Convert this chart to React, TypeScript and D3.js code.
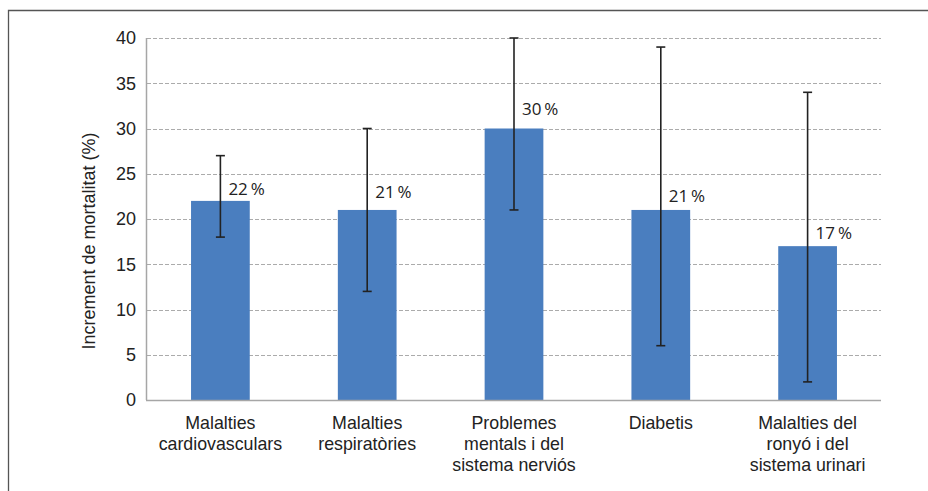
import React from "react";
import * as d3 from "d3";

const categories: string[][] = [
  ["Malalties", "cardiovasculars"],
  ["Malalties", "respiratòries"],
  ["Problemes", "mentals i del", "sistema nerviós"],
  ["Diabetis"],
  ["Malalties del", "ronyó i del", "sistema urinari"],
];
const values = [22, 21, 30, 21, 17];
const lower = [18, 12, 21, 6, 2];
const upper = [27, 30, 40, 39, 34];
const labelAt = [23.3, 23.0, 32.2, 22.5, 18.45];
const yTicks = [0, 5, 10, 15, 20, 25, 30, 35, 40];

export default function App() {
  const W = 928, H = 491;
  const left = 147, right = 881, top = 38, bottom = 400;
  const x = d3.scaleBand<number>().domain(d3.range(values.length)).range([left, right]).paddingInner(0.6).paddingOuter(0.3);
  const y = d3.scaleLinear().domain([0, 40]).range([bottom, top]);
  const axisFont = "'Liberation Sans', Arial, sans-serif";
  const labelFont = "'Open Sans', 'Noto Sans', sans-serif";
  return (
    <svg width={W} height={H} style={{ position: "absolute", left: 0, top: 0 }}>
      <rect x={0} y={0} width={W} height={H} fill="#fff" />
      <path d={`M8.5,${H} V10.5 H${W}`} fill="none" stroke="#555" strokeWidth={1.3} />
      {yTicks.slice(1).map((t) => (
        <line key={t} x1={left} x2={right} y1={Math.round(y(t)) + 0.5} y2={Math.round(y(t)) + 0.5} stroke="#ababab" strokeWidth={1} strokeDasharray="4,2" />
      ))}
      {values.map((v, i) => (
        <rect key={i} x={x(i)!} width={x.bandwidth()} y={y(v)} height={y(0) - y(v)} fill="#4a7ebf" />
      ))}
      <line x1={left - 0.5} x2={left - 0.5} y1={top} y2={bottom} stroke="#a6a6a6" strokeWidth={1.5} />
      <line x1={left - 1} x2={right} y1={bottom + 0.5} y2={bottom + 0.5} stroke="#a6a6a6" strokeWidth={1.5} />
      {values.map((v, i) => {
        const cx = x(i)! + x.bandwidth() / 2;
        return (
          <g key={i} stroke="#222" strokeWidth={1.6}>
            <line x1={cx} x2={cx} y1={y(upper[i])} y2={y(lower[i])} />
            <line x1={cx - 4.5} x2={cx + 4.5} y1={y(upper[i])} y2={y(upper[i])} />
            <line x1={cx - 4.5} x2={cx + 4.5} y1={y(lower[i])} y2={y(lower[i])} />
          </g>
        );
      })}
      {values.map((v, i) => {
        const cx = x(i)! + x.bandwidth() / 2;
        return (
          <text key={i} x={cx + 8} y={y(labelAt[i])} dy="0.35em" fontFamily={labelFont} fontSize={17} fill="#222">
            {v}{"\u2009"}%
          </text>
        );
      })}
      {yTicks.map((t) => (
        <text key={t} x={136} y={y(t)} dy="0.35em" textAnchor="end" fontFamily={axisFont} fontSize={18} fill="#222">
          {t}
        </text>
      ))}
      <text transform={`translate(95,241) rotate(-90)`} textAnchor="middle" fontFamily={axisFont} fontSize={18} fill="#222">
        Increment de mortalitat (%)
      </text>
      {categories.map((lines, i) => {
        const cx = x(i)! + x.bandwidth() / 2;
        return (
          <text key={i} textAnchor="middle" fontFamily={axisFont} fontSize={17.8} fill="#222">
            {lines.map((l, j) => (
              <tspan key={j} x={cx} y={423 + j * 20.7} dy="0.35em">{l}</tspan>
            ))}
          </text>
        );
      })}
    </svg>
  );
}
